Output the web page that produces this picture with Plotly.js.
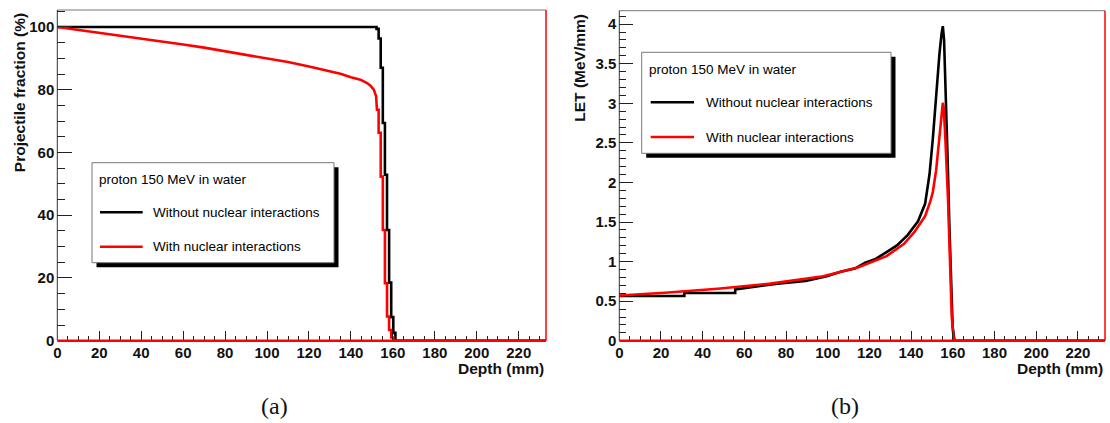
<!DOCTYPE html>
<html>
<head>
<meta charset="utf-8">
<script src="https://cdn.plot.ly/plotly-3.0.1.min.js"></script>
<style>html,body{margin:0;padding:0;background:#fff;}#chart{width:1110px;height:423px;}</style>
</head>
<body>
<div id="chart"></div>
<script>
// ---------- data ----------
// (a) projectile fraction vs depth
const depthA_without = [0,152.2,152.2,153.2,153.2,154.2,154.2,155.2,155.2,156.2,156.2,157.2,157.2,158.2,158.2,159.2,159.2,160.2,160.2,161.2,161.2,233];
const fracA_without  = [100,100,99.4,99.4,96.3,96.3,87,87,69.4,69.4,52.9,52.9,35.3,35.3,18.5,18.5,7.5,7.5,2.5,2.5,0,0];
const depthA_with = [0,10,20,30,40,50,60,70,80,90,100,110,120,130,135,140,144.5,147.5,149.3,150.9,152.0,152.4,153.2,153.2,154.2,154.2,155.2,155.2,156.2,156.2,157.2,157.2,158.2,158.2,159.2,159.2,160.2,160.2,233];
const fracA_with  = [100,99.1,98.2,97.3,96.3,95.4,94.4,93.4,92.3,91.2,90.0,88.8,87.4,86.0,85.1,84.0,83.2,82.2,81.3,80.0,77.9,73.6,73.6,66.3,66.3,52.3,52.3,35.3,35.3,18.3,18.3,7.7,7.7,3.4,3.4,1.0,1.0,0,0];

// (b) LET vs depth
const depthB_without = [0,31.2,31.2,55.6,55.6,65.8,75.9,89.4,99.5,106.2,113,118,123,128.2,133.2,138.3,143.3,146.7,148.8,150.4,152,153.6,154.6,155.2,155.8,156.6,157.5,158.3,159.1,159.9,160.8,233];
const letB_without   = [0.565,0.565,0.603,0.603,0.65,0.688,0.722,0.756,0.816,0.871,0.913,0.986,1.035,1.12,1.205,1.335,1.51,1.73,2.1,2.55,3.125,3.63,3.88,3.975,3.8,3.2,2.3,1.5,0.7,0.18,0,0];
const depthB_with = [0,21.9,47.2,72.5,97.8,114.7,128.2,136.6,141.6,146.7,149.2,150.4,152,153.6,154.4,155.2,155.6,156.3,157.7,158.7,159.5,160.3,161,233];
const letB_with   = [0.573,0.607,0.658,0.722,0.816,0.93,1.07,1.225,1.375,1.575,1.76,1.88,2.156,2.62,2.87,3.006,2.95,2.62,1.78,0.94,0.30,0.05,0,0];

// tick labels
const xTickVals = [0,20,40,60,80,100,120,140,160,180,200,220];
const xTickText = xTickVals.map(String);
const yTickValsA = [0,20,40,60,80,100];
const yTickTextA = yTickValsA.map(String);
const yTickValsB = [0,0.5,1,1.5,2,2.5,3,3.5,4];
const yTickTextB = ['0','0.5','1','1.5','2','2.5','3','3.5','4'];

// texts
const legendTitle = 'proton 150 MeV in water';
const nameWithout = 'Without nuclear interactions';
const nameWith = 'With nuclear interactions';

// ---------- layout helpers ----------
const W = 1110, H = 423;
const fx = p => p / W;
const fy = p => 1 - p / H;
const SANS = 'Liberation Sans, Arial, Helvetica, sans-serif';
const tickFont = {family: SANS, size: 15, color: '#111', weight: 'bold'};

function xAxis(domain, anchor) {
  return {
    domain: domain, anchor: anchor, range: [0, 233],
    tickmode: 'array', tickvals: xTickVals, ticktext: xTickText,
    ticks: 'inside', ticklen: 10, tickwidth: 1, tickcolor: '#222',
    minor: {tickmode: 'linear', tick0: 0, dtick: 5, ticks: 'inside', ticklen: 5, tickwidth: 1, tickcolor: '#222'},
    showgrid: false, zeroline: false, showline: false,
    tickfont: tickFont, fixedrange: true, ticklabelstandoff: 1
  };
}
function yAxis(domain, anchor, range, vals, text, dminor, len) {
  return {
    domain: domain, anchor: anchor, range: range,
    tickmode: 'array', tickvals: vals, ticktext: text,
    ticks: 'inside', ticklen: len, tickwidth: 1, tickcolor: '#222',
    minor: {tickmode: 'linear', tick0: 0, dtick: dminor, ticks: 'inside', ticklen: len / 2, tickwidth: 1, tickcolor: '#222'},
    showgrid: false, zeroline: false, showline: false,
    tickfont: tickFont, fixedrange: true, ticklabelstandoff: 2
  };
}

const LW = 2.6;
const traces = [
  {x: depthA_without, y: fracA_without, xaxis: 'x', yaxis: 'y', mode: 'lines', line: {color: '#000000', width: LW}, hoverinfo: 'skip'},
  {x: depthA_with, y: fracA_with, xaxis: 'x', yaxis: 'y', mode: 'lines', line: {color: '#ff0000', width: LW}, hoverinfo: 'skip'},
  {x: depthB_without, y: letB_without, xaxis: 'x2', yaxis: 'y2', mode: 'lines', line: {color: '#000000', width: LW}, hoverinfo: 'skip'},
  {x: depthB_with, y: letB_with, xaxis: 'x2', yaxis: 'y2', mode: 'lines', line: {color: '#ff0000', width: LW}, hoverinfo: 'skip'}
];

function frame(xr, yr) {
  return [
    {type: 'line', xref: xr + ' domain', yref: yr + ' domain', x0: 0, x1: 1, y0: 1, y1: 1, line: {color: '#777', width: 1}},
    {type: 'line', xref: xr + ' domain', yref: yr + ' domain', x0: 0, x1: 0, y0: 0, y1: 1, line: {color: '#333', width: 1}},
    {type: 'line', xref: xr + ' domain', yref: yr + ' domain', x0: 0, x1: 1, y0: 0, y1: 0, line: {color: '#ff0000', width: 2.4}},
    {type: 'line', xref: xr + ' domain', yref: yr + ' domain', x0: 1, x1: 1, y0: 0, y1: 1, line: {color: '#ff0000', width: 1.5}}
  ];
}
function legendBox(x0, y0, x1, y1, lx0, lx1, ly1, ly2) {
  return [
    {type: 'rect', xref: 'paper', yref: 'paper', x0: fx(x0 + 4.5), x1: fx(x1 + 4.5), y0: fy(y1 + 4.5), y1: fy(y0 + 4.5), fillcolor: '#000', line: {width: 0}},
    {type: 'rect', xref: 'paper', yref: 'paper', x0: fx(x0), x1: fx(x1), y0: fy(y1), y1: fy(y0), fillcolor: '#fff', line: {color: '#777', width: 1}},
    {type: 'line', xref: 'paper', yref: 'paper', x0: fx(lx0), x1: fx(lx1), y0: fy(ly1), y1: fy(ly1), line: {color: '#000', width: 2.6}},
    {type: 'line', xref: 'paper', yref: 'paper', x0: fx(lx0), x1: fx(lx1), y0: fy(ly2), y1: fy(ly2), line: {color: '#ff0000', width: 2.6}}
  ];
}
function txt(t, x, y, opts) {
  return Object.assign({text: t, x: fx(x), y: fy(y), xref: 'paper', yref: 'paper', showarrow: false,
    xanchor: 'left', yanchor: 'middle', font: {family: SANS, size: 13.5, color: '#000'}}, opts || {});
}
const boldTitle = {family: SANS, size: 15.5, color: '#111', weight: 'bold'};
const serif = {family: 'Liberation Serif, DejaVu Serif, serif', size: 24, color: '#111'};

const layout = {
  width: W, height: H,
  margin: {l: 0, r: 0, t: 0, b: 0},
  paper_bgcolor: '#fff', plot_bgcolor: '#fff',
  showlegend: false,
  xaxis: xAxis([fx(57.3), fx(546)], 'y'),
  yaxis: yAxis([fy(340.7), fy(10)], 'x', [0, 105.4], yTickValsA, yTickTextA, 5, 15),
  xaxis2: xAxis([fx(619.3), fx(1105)], 'y2'),
  yaxis2: yAxis([fy(340.8), fy(10.7)], 'x2', [0, 4.17], yTickValsB, yTickTextB, 0.1, 14),
  shapes: [].concat(
    frame('x', 'y'), frame('x2', 'y2'),
    legendBox(92, 162.7, 334, 262.7, 100, 142.7, 212.3, 246.7),
    legendBox(641.7, 52.3, 891, 153.3, 650.7, 694, 102.3, 137)
  ),
  annotations: [
    txt('Projectile fraction (%)', 19, 11.7, {textangle: -90, xanchor: 'center', yanchor: 'top', font: boldTitle}),
    txt('LET (MeV/mm)', 580, 11.7, {textangle: -90, xanchor: 'center', yanchor: 'top', font: boldTitle}),
    txt('Depth (mm)', 546, 368.5, {xanchor: 'right', font: boldTitle}),
    txt('Depth (mm)', 1105, 368.5, {xanchor: 'right', font: boldTitle}),
    txt('(a)', 274, 406, {xanchor: 'center', font: serif}),
    txt('(b)', 845, 406, {xanchor: 'center', font: serif}),
    txt(legendTitle, 97, 180),
    txt(nameWithout, 150.7, 212.3),
    txt(nameWith, 150.7, 246.7),
    txt(legendTitle, 647.3, 69.3),
    txt(nameWithout, 704, 102.3),
    txt(nameWith, 704, 137)
  ]
};

Plotly.newPlot('chart', traces, layout, {displayModeBar: false, staticPlot: true});
</script>
</body>
</html>
